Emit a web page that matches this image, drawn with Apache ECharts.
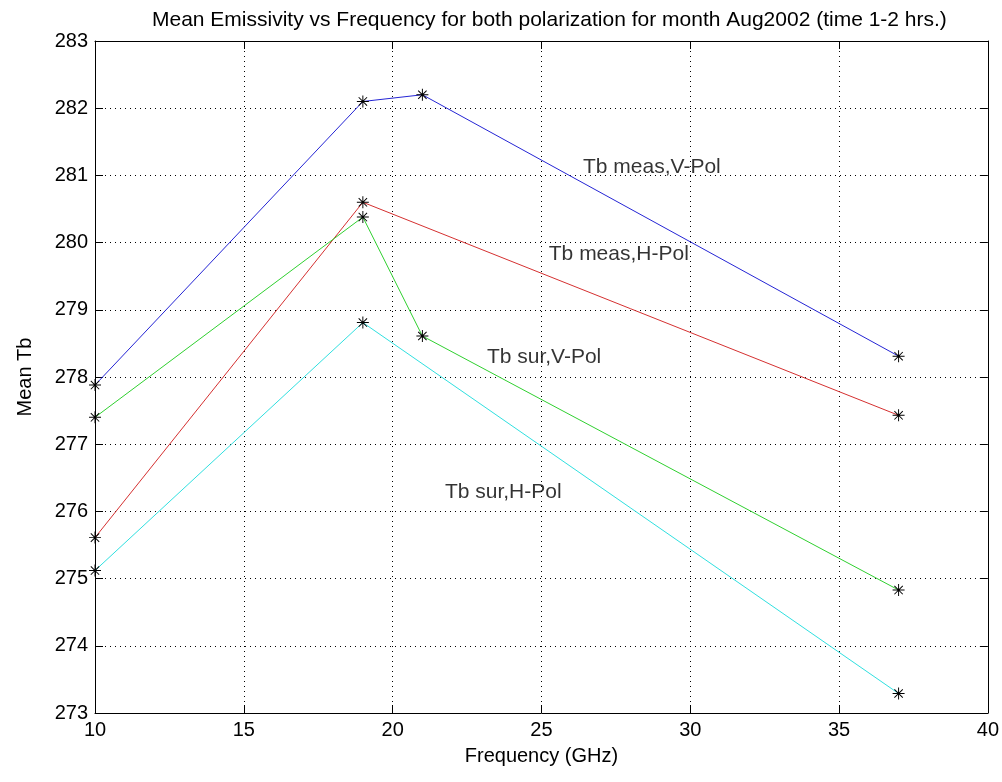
<!DOCTYPE html>
<html>
<head>
<meta charset="utf-8">
<script src="https://cdn.jsdelivr.net/npm/echarts@6/dist/echarts.min.js"></script>
<style>html,body{margin:0;padding:0;background:#fff;}#c{width:1002px;height:782px;}</style>
</head>
<body>
<div id="c"></div>
<script>
// Data
var titleText = 'Mean Emissivity vs Frequency for both polarization for month Aug2002 (time 1-2 hrs.)';
var measV_x = [10, 19, 21, 37];
var measV_y = [277.88, 282.10, 282.20, 278.31];
var measH_x = [10, 19, 37];
var measH_y = [275.61, 280.60, 277.43];
var surV_x = [10, 19, 21, 37];
var surV_y = [277.40, 280.38, 278.61, 274.83];
var surH_x = [10, 19, 37];
var surH_y = [275.12, 278.81, 273.29];
var labelTexts = ['Tb meas,V-Pol', 'Tb meas,H-Pol', 'Tb sur,V-Pol', 'Tb sur,H-Pol'];
var labelX = [26.38, 25.23, 23.15, 21.74];
var labelY = [281.12, 279.82, 278.30, 276.29];

function pairs(xs, ys) { return xs.map(function (x, i) { return [x, ys[i]]; }); }

var star = 'path://M0 46 L100 46 L100 54 L0 54 Z M46 0 L54 0 L54 100 L46 100 Z ' +
  'M17.83 12.17 L87.83 82.17 L82.17 87.83 L12.17 17.83 Z ' +
  'M82.17 12.17 L87.83 17.83 L17.83 87.83 L12.17 82.17 Z';

var font = 'Liberation Sans, Arial, sans-serif';

function lineSeries(name, xs, ys, color) {
  return {
    name: name, type: 'line', data: pairs(xs, ys),
    symbol: star, symbolSize: 12, showAllSymbol: true,
    lineStyle: { color: color, width: 1 },
    itemStyle: { color: '#000' },
    z: 3, animation: false
  };
}

var chart = echarts.init(document.getElementById('c'));
var axisCommon = {
  axisLine: { show: true, onZero: false, lineStyle: { color: '#000', width: 1 } },
  axisTick: { show: true, inside: true, length: 8, lineStyle: { color: '#000' } }
};
chart.setOption({
  backgroundColor: '#fff',
  animation: false,
  title: {
    text: titleText, left: 147, top: 5,
    textStyle: { fontFamily: font, fontSize: 21, fontWeight: 'normal', color: '#000' }
  },
  grid: { left: 95, right: 13, top: 41, bottom: 69 },
  xAxis: [
    Object.assign({
      type: 'value', min: 10, max: 40, interval: 5,
      name: 'Frequency (GHz)', nameLocation: 'middle', nameGap: 33,
      nameTextStyle: { fontFamily: font, fontSize: 20, color: '#000' },
      axisLabel: { fontFamily: font, fontSize: 20, color: '#000', margin: 7 },
      splitLine: { show: true, lineStyle: { color: '#000', type: [1, 4], width: 1 } }
    }, axisCommon),
    Object.assign({
      type: 'value', min: 10, max: 40, interval: 5, position: 'top',
      axisLabel: { show: false }, splitLine: { show: false }
    }, axisCommon)
  ],
  yAxis: [
    Object.assign({
      type: 'value', min: 273, max: 283, interval: 1,
      name: 'Mean Tb', nameLocation: 'middle', nameGap: 60,
      nameTextStyle: { fontFamily: font, fontSize: 20, color: '#000' },
      axisLabel: { fontFamily: font, fontSize: 20, color: '#000', margin: 7 },
      splitLine: { show: true, lineStyle: { color: '#000', type: [1, 4], width: 1 } }
    }, axisCommon),
    Object.assign({
      type: 'value', min: 273, max: 283, interval: 1, position: 'right',
      axisLabel: { show: false }, splitLine: { show: false }
    }, axisCommon)
  ],
  series: [
    lineSeries('Tb meas,V-Pol', measV_x, measV_y, '#2525d5'),
    lineSeries('Tb meas,H-Pol', measH_x, measH_y, '#d53030'),
    lineSeries('Tb sur,V-Pol', surV_x, surV_y, '#30d030'),
    lineSeries('Tb sur,H-Pol', surH_x, surH_y, '#30e0e0'),
    {
      name: 'labels', type: 'scatter', symbolSize: 1, itemStyle: { color: 'rgba(0,0,0,0)' },
      data: labelTexts.map(function (t, i) { return { value: [labelX[i], labelY[i]], name: t }; }),
      label: {
        show: true, position: 'right', distance: 0, formatter: '{b}',
        fontFamily: font, fontSize: 21, color: '#000'
      },
      silent: true, z: 4
    }
  ]
});
</script>
</body>
</html>
